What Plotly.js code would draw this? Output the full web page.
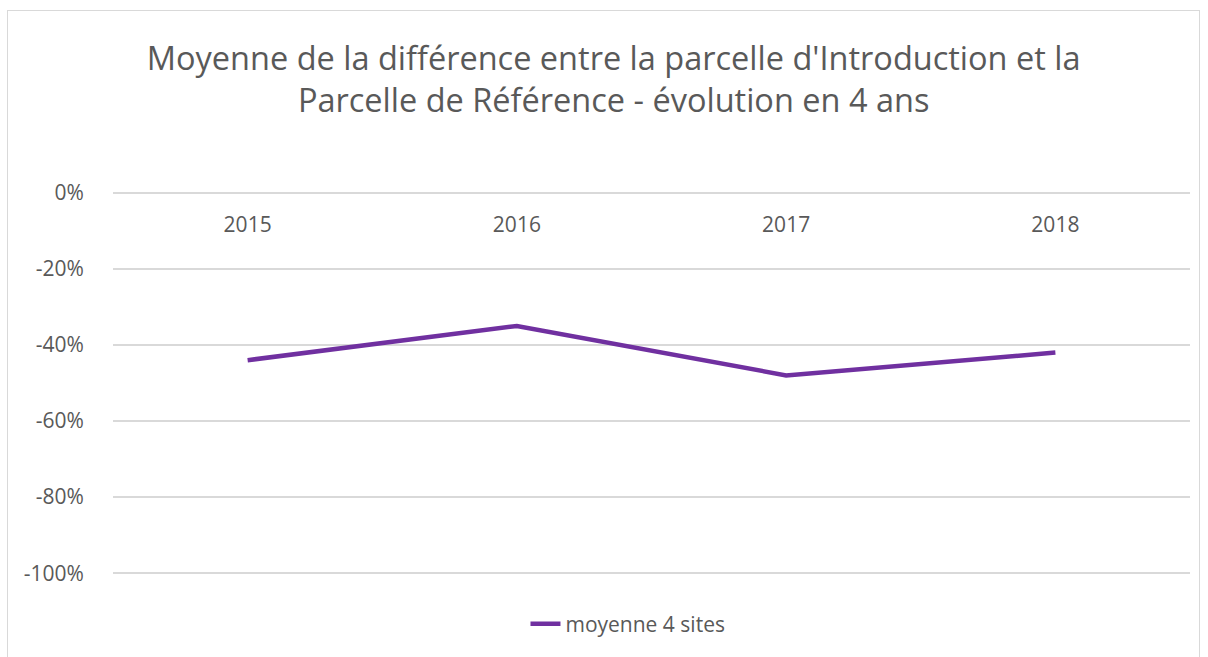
<!DOCTYPE html>
<html>
<head>
<meta charset="utf-8">
<script src="https://cdn.plot.ly/plotly-3.0.1.min.js"></script>
<style>
  html, body { margin: 0; padding: 0; background: #fff; }
  #chart { width: 1208px; height: 657px; position: absolute; left: 0; top: 0; }
  #frame { position: absolute; left: 7px; top: 10px; width: 1193px; height: 660px;
           border: 1px solid #d9d9d9; pointer-events: none; box-sizing: border-box; }
</style>
</head>
<body>
<div id="chart"></div>
<div id="frame"></div>
<script>
const years = ["2015", "2016", "2017", "2018"];
const moyenne4Sites = [-0.44, -0.35, -0.48, -0.42];
const seriesName = "moyenne 4 sites";
const yTickVals = [0, -0.2, -0.4, -0.6, -0.8, -1.0];
const yTickText = ["0%", "-20%", "-40%", "-60%", "-80%", "-100%"];

const FONT = '"Open Sans", "Noto Sans", sans-serif';

Plotly.newPlot('chart', [{
  x: years,
  y: moyenne4Sites,
  type: 'scatter',
  mode: 'lines',
  name: seriesName,
  line: { color: '#7030A0', width: 4.5 }
}], {
  width: 1208,
  height: 657,
  paper_bgcolor: '#ffffff',
  plot_bgcolor: '#ffffff',
  margin: { l: 113, r: 18, t: 189, b: 80 },
  title: {
    text: "Moyenne de la différence entre la parcelle d'Introduction et la<br>Parcelle de Référence - évolution en 4 ans",
    font: { family: FONT, size: 32.5, color: '#595959' },
    xref: 'container', x: 0.508, xanchor: 'center',
    yref: 'container', y: 0.894, yanchor: 'top'
  },
  xaxis: {
    type: 'category',
    range: [-0.5, 3.5],
    anchor: 'free',
    position: 1,
    side: 'bottom',
    ticks: 'outside',
    ticklen: 17,
    tickcolor: 'rgba(0,0,0,0)',
    showgrid: false,
    zeroline: false,
    showline: false,
    tickfont: { family: FONT, size: 21, color: '#595959' }
  },
  yaxis: {
    range: [-1.01, 0.01],
    tickvals: yTickVals,
    ticktext: yTickText,
    ticks: 'outside',
    ticklen: 24,
    tickcolor: 'rgba(0,0,0,0)',
    showgrid: true,
    gridcolor: '#d9d9d9',
    gridwidth: 1.5,
    zeroline: false,
    showline: false,
    tickfont: { family: FONT, size: 21, color: '#595959' }
  },
  showlegend: true,
  legend: {
    orientation: 'h',
    xref: 'container', x: 0.435, xanchor: 'left',
    yref: 'container', y: 0.05, yanchor: 'middle',
    font: { family: FONT, size: 21, color: '#595959' }
  }
}, { displayModeBar: false, staticPlot: true });
</script>
</body>
</html>
